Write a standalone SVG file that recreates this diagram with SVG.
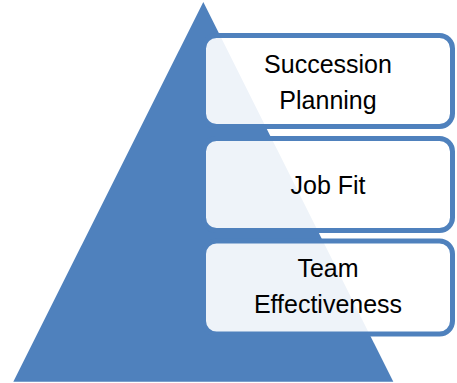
<svg xmlns="http://www.w3.org/2000/svg" width="457" height="383" viewBox="0 0 457 383">
  <style>
    .pyramid { fill: #4F81BD; }
    .tier rect { fill: #FFFFFF; fill-opacity: 0.9; stroke: #4F81BD; stroke-width: 5; }
    .tier text { font-family: "Liberation Sans", Arial, sans-serif; font-size: 25px; fill: #000000; text-anchor: middle; }
  </style>
  <rect width="457" height="383" fill="#FFFFFF"/>
  <!-- background pyramid -->
  <g id="pyramid">
    <polygon class="pyramid" points="203.3,2 13.3,381.7 393.3,381.7"/>
  </g>
  <g id="connectors"/>
  <!-- stacked tiers -->
  <g id="succession-planning" class="tier">
    <rect x="203.5" y="35.5" width="249" height="91" rx="13" ry="13"/>
    <text x="328" y="73">Succession</text>
    <text x="328" y="109">Planning</text>
  </g>
  <g id="job-fit" class="tier">
    <rect x="203.5" y="138.5" width="249" height="92" rx="13" ry="13"/>
    <text x="328" y="193.5">Job Fit</text>
  </g>
  <g id="team-effectiveness" class="tier">
    <rect x="203.5" y="241" width="249" height="93" rx="13" ry="13"/>
    <text x="328" y="277">Team</text>
    <text x="328" y="313">Effectiveness</text>
  </g>
</svg>
